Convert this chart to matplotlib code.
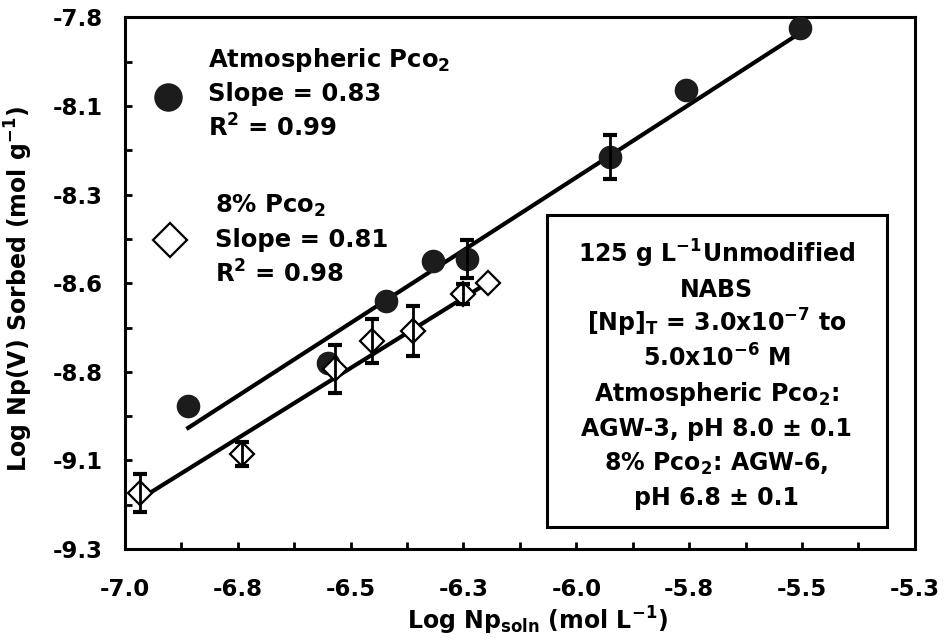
import numpy as np
import matplotlib.pyplot as plt
from matplotlib.patches import Rectangle

plt.rcParams['font.family'] = ['DejaVu Sans']
plt.rcParams['font.weight'] = 'bold'
plt.rcParams['axes.labelweight'] = 'bold'
plt.rcParams['mathtext.default'] = 'bf'

# data
atm_x = [-6.860, -6.550, -6.422, -6.318, -6.242, -5.926, -5.757, -5.505]
atm_y = [-8.896, -8.775, -8.599, -8.486, -8.481, -8.195, -8.006, -7.831]
atm_err = [0, 0, 0, 0, 0.054, 0.062, 0, 0]

co2_x = [-6.967, -6.741, -6.535, -6.453, -6.362, -6.251, -6.196]
co2_y = [-9.142, -9.032, -8.792, -8.712, -8.684, -8.580, -8.549]
co2_err = [0.054, 0.034, 0.068, 0.062, 0.071, 0.028, 0]

# fitted lines (end points)
atm_fit_x = [-6.860, -5.505]
atm_fit_y = [-8.958, -7.845]
co2_fit_x = [-6.967, -6.185]
co2_fit_y = [-9.159, -8.540]

x_ticks = [-7.0, -6.75, -6.5, -6.25, -6.0, -5.75, -5.5, -5.25]
x_tick_labels = ['-7.0', '-6.8', '-6.5', '-6.3', '-6.0', '-5.8', '-5.5', '-5.3']
y_ticks = [-7.8, -8.05, -8.3, -8.55, -8.8, -9.05, -9.3]
y_tick_labels = ['-7.8', '-8.1', '-8.3', '-8.6', '-8.8', '-9.1', '-9.3']

atm_text = ['Atmospheric Pco$_2$', 'Slope = 0.83', 'R$^2$ = 0.99']
co2_text = ['8% Pco$_2$', 'Slope = 0.81', 'R$^2$ = 0.98']
box_text = ['125 g L$^{-1}$Unmodified', 'NABS',
            '[Np]$_T$ = 3.0x10$^{-7}$ to', '5.0x10$^{-6}$ M',
            'Atmospheric Pco$_2$:', 'AGW-3, pH 8.0 ± 0.1',
            '8% Pco$_2$: AGW-6,', 'pH 6.8 ± 0.1']

fig = plt.figure(figsize=(9.47, 6.4), dpi=100)
ax = fig.add_axes([0.132, 0.142, 0.834, 0.831])

ax.plot(atm_fit_x, atm_fit_y, color='black', lw=3, zorder=2)
ax.plot(co2_fit_x, co2_fit_y, color='black', lw=3, zorder=2)

ax.plot(atm_x, atm_y, 'o', ms=16, mfc='#1c1c1c', mec='#1c1c1c', zorder=3)
ax.plot(co2_x, co2_y, 'D', ms=12.5, mfc='white', mec='black', mew=1.6, zorder=3)

ae = np.array(atm_err)
m = ae > 0
ax.errorbar(np.array(atm_x)[m], np.array(atm_y)[m], yerr=ae[m], fmt='none',
            ecolor='black', elinewidth=2, capsize=5, capthick=3, zorder=4)
ce = np.array(co2_err)
m = ce > 0
ax.errorbar(np.array(co2_x)[m], np.array(co2_y)[m], yerr=ce[m], fmt='none',
            ecolor='black', elinewidth=2, capsize=5, capthick=3, zorder=4)

ax.set_xlim(-7.0, -5.25)
ax.set_ylim(-9.3, -7.8)
ax.set_xticks(x_ticks)
ax.set_xticklabels(x_tick_labels)
ax.set_yticks(y_ticks)
ax.set_yticklabels(y_tick_labels)
ax.set_xticks([t + 0.125 for t in x_ticks[:-1]], minor=True)
ax.set_yticks([t - 0.125 for t in y_ticks[:-1]], minor=True)
ax.tick_params(which='both', direction='in', length=5, width=2,
               top=False, right=False)
ax.tick_params(axis='x', which='major', labelsize=16.5, pad=21)
ax.tick_params(axis='y', which='major', labelsize=16.5, pad=16)
for s in ax.spines.values():
    s.set_linewidth(2.2)

ax.set_xlabel('Log Np$_{soln}$ (mol L$^{-1}$)', fontsize=17)
ax.xaxis.set_label_coords(0.522, -0.104)
ax.set_ylabel('Log Np(V) Sorbed (mol g$^{-1}$)', fontsize=17)
ax.yaxis.set_label_coords(-0.114, 0.49)

# legend-like annotations
ax.plot([0.0544], [0.850], 'o', ms=19.5, mfc='#1c1c1c', mec='#1c1c1c',
        transform=ax.transAxes, clip_on=False)
ax.plot([0.057], [0.581], 'D', ms=17, mfc='white', mec='black', mew=1.6,
        transform=ax.transAxes, clip_on=False)
for txt, yy in zip(atm_text, [0.906, 0.843, 0.776]):
    ax.text(0.105, yy, txt, transform=ax.transAxes, fontsize=17.5, va='baseline')
for txt, yy in zip(co2_text, [0.633, 0.568, 0.502]):
    ax.text(0.114, yy, txt, transform=ax.transAxes, fontsize=17.5, va='baseline')

ax.add_patch(Rectangle((0.534, 0.041), 0.431, 0.587, transform=ax.transAxes,
                       facecolor='white', edgecolor='black', lw=2.2, zorder=5))
for i, txt in enumerate(box_text):
    ax.text(0.749, 0.5395 - i * 0.0653, txt, transform=ax.transAxes,
            fontsize=17, ha='center', va='baseline', zorder=6)

fig.savefig('out.png', dpi=100)
